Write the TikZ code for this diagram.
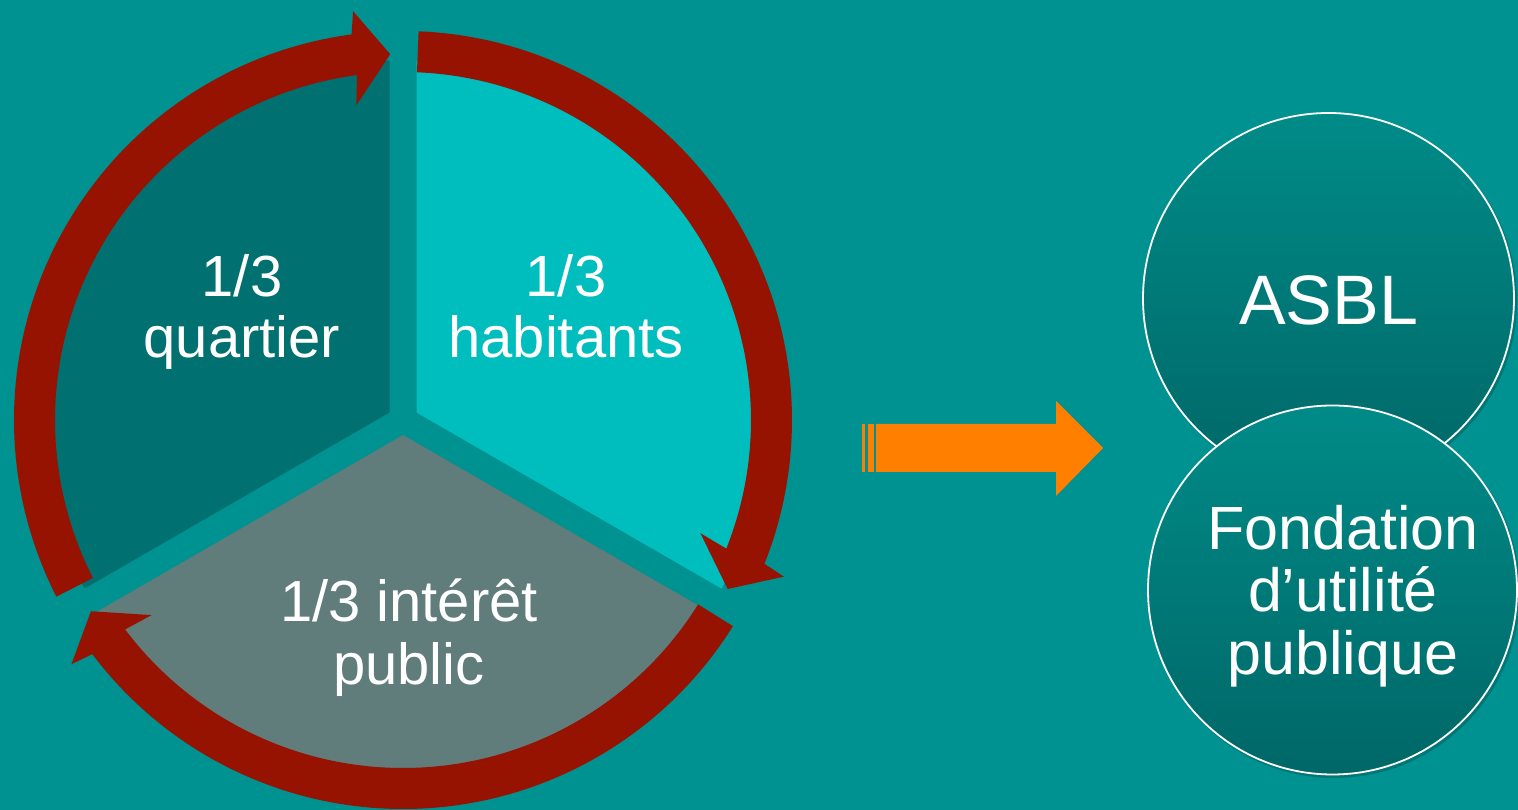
\documentclass[tikz,border=0pt]{standalone}
\usepackage{fontspec}
\setmainfont{Liberation Sans}
\usetikzlibrary{calc}
\definecolor{bgc}{HTML}{009191}
\definecolor{quartc}{HTML}{007070}
\definecolor{habc}{HTML}{00BEBE}
\definecolor{pubc}{HTML}{607C7B}
\definecolor{redc}{HTML}{951300}
\definecolor{orac}{HTML}{FF8000}
\definecolor{circtop}{HTML}{008B88}
\definecolor{circbot}{HTML}{006767}
% #1 start angle, #2 end angle (head base), #3 tip angle
\newcommand{\redarrowshape}[3]{%
  \fill[redc] ($(C)+(#1:389)$) arc[start angle=#1, end angle=#2, radius=389]
    -- ($(C)+(#2:365)+(#3:47)$) -- ($(C)+(#3:366)$) -- ($(C)+(#2:365)+(#3:-47)$)
    -- ($(C)+(#2:348)$) arc[start angle=#2, end angle=#1, radius=348] -- cycle;}
\begin{document}
\begin{tikzpicture}[x=1pt,y=1pt,
  lbl/.style={text=white, align=center, inner sep=0pt},
  circshadow/.style={fill=black, opacity=0.18}]
\useasboundingbox (0,0) rectangle (1518,810);
\fill[bgc] (0,0) rectangle (1518,810);
\coordinate (C) at (403,390);
% sectors
\fill[quartc] (389.5,397.5) -- ++(90:352) arc[start angle=90, end angle=210, radius=352] -- cycle;
\fill[habc] (416.5,397.5) -- ++(-30:352) arc[start angle=-30, end angle=90, radius=352] -- cycle;
\fill[pubc] (403,375) -- ++(210:352) arc[start angle=210, end angle=330, radius=352] -- cycle;
% red circular arrows
\redarrowshape{87.7}{-21.7}{-27.5}
\redarrowshape{-32}{-143}{-148.5}
\redarrowshape{207}{97.6}{92}
% labels in the pie
\node[lbl, font=\fontsize{58}{61}\selectfont, anchor=base] (q) at (242,513) {1/3};
\node[lbl, font=\fontsize{58}{61}\selectfont, anchor=base] (q2) at (242,452) {quartier};
\node[lbl, font=\fontsize{58}{61}\selectfont, anchor=base] (h) at (566,513) {1/3};
\node[lbl, font=\fontsize{58}{61}\selectfont, anchor=base] (h2) at (566,452) {habitants};
\node[lbl, font=\fontsize{58}{61}\selectfont, anchor=base] (p) at (409,188) {1/3 intérêt};
\node[lbl, font=\fontsize{58}{61}\selectfont, anchor=base] (p2) at (409,125) {public};
% orange arrow
\fill[orac] (862,338) rectangle (865,386);
\fill[orac] (867.5,338) rectangle (873.5,386);
\fill[orac] (876,338) -- (1056,338) -- (1056,314) -- (1103,362) -- (1056,409) -- (1056,386) -- (876,386) -- cycle;
% circles
\fill[circshadow] (1330.5,509) circle[radius=186.5];
\shade[top color=circtop, bottom color=circbot] (1328.5,511.5) circle[radius=185.5];
\draw[white, line width=1.8pt] (1328.5,511.5) circle[radius=185.5];
\fill[circshadow] (1334.5,217.5) circle[radius=185.5];
\shade[top color=circtop, bottom color=circbot] (1332.5,220) circle[radius=184.5];
\draw[white, line width=1.8pt] (1332.5,220) circle[radius=184.5];
\node[lbl, font=\fontsize{70}{74}\selectfont, anchor=base] (asbl) at (1328.5,485) {ASBL};
\node[lbl, font=\fontsize{61}{62}\selectfont, anchor=base] (f1) at (1343,260) {Fondation};
\node[lbl, font=\fontsize{61}{62}\selectfont, anchor=base] (f2) at (1343,198) {d’utilité};
\node[lbl, font=\fontsize{61}{62}\selectfont, anchor=base] (f3) at (1343,135) {publique};
\end{tikzpicture}
\end{document}
